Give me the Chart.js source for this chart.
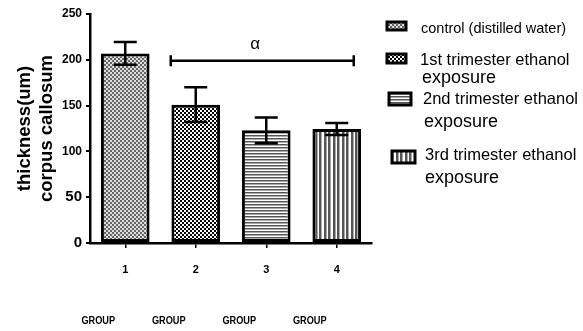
<!DOCTYPE html>
<html>
<head>
<meta charset="utf-8">
<script src="https://cdn.jsdelivr.net/npm/chart.js@4.4.1/dist/chart.umd.min.js"></script>
<style>
html, body { margin: 0; padding: 0; background: #fff; }
</style>
</head>
<body>
<canvas id="thicknessChart" width="583" height="331"></canvas>
<script>
// Data
const groups = ['1', '2', '3', '4'];
const groupNames = ['GROUP', 'GROUP', 'GROUP', 'GROUP'];
const meanThickness = [207, 151, 123, 124.5];
const semThickness = [12.5, 19, 14, 6.5];
const seriesNames = [
    ['control (distilled water)'],
    ['1st trimester ethanol', 'exposure'],
    ['2nd trimester ethanol', 'exposure'],
    ['3rd trimester ethanol', 'exposure']
];
const yTicks = [0, 50, 100, 150, 200, 250];
const sigLevel = 199;
const sigFrom = 1;
const sigTo = 3;
const sigMark = 'α';

const FONT = "'Liberation Sans', Arial, sans-serif";
Chart.defaults.font.family = FONT;
Chart.defaults.color = '#000';

// Build a small canvas tile and turn it into a pattern
function makePattern(w, h, draw) {
    const c = document.createElement('canvas');
    c.width = w;
    c.height = h;
    const g = c.getContext('2d');
    g.fillStyle = '#fff';
    g.fillRect(0, 0, w, h);
    draw(g);
    return document.getElementById('thicknessChart').getContext('2d').createPattern(c, 'repeat');
}

const patterns = [
    // fine grey checker
    makePattern(4, 4, g => {
        g.fillStyle = '#dcdcdc';
        g.fillRect(0, 0, 4, 4);
        g.fillStyle = '#666';
        g.fillRect(0, 0, 2, 2);
        g.fillRect(2, 2, 2, 2);
    }),
    // black/white checker
    makePattern(4, 4, g => {
        g.fillStyle = '#000';
        g.fillRect(0, 0, 2, 2);
        g.fillRect(2, 2, 2, 2);
    }),
    // horizontal lines
    makePattern(3, 3, g => {
        g.fillStyle = '#555';
        g.fillRect(0, 0, 3, 1);
        g.fillStyle = '#aaa';
        g.fillRect(0, 1, 3, 1);
    }),
    // vertical lines
    makePattern(9, 3, g => {
        g.fillStyle = '#555';
        g.fillRect(0, 0, 2, 3);
        g.fillRect(4, 0, 2, 3);
        g.fillStyle = '#aaa';
        g.fillRect(2, 0, 1, 3);
        g.fillRect(6, 0, 1, 3);
    })
];

// error bars (mean +/- sem) through the y scale
const errorBars = {
    id: 'errorBars',
    afterDatasetsDraw(chart) {
        const ctx = chart.ctx;
        const y = chart.scales.y;
        const meta = chart.getDatasetMeta(0);
        ctx.save();
        ctx.strokeStyle = '#000';
        ctx.lineWidth = 2.5;
        meta.data.forEach((bar, i) => {
            const hi = y.getPixelForValue(meanThickness[i] + semThickness[i]);
            const lo = y.getPixelForValue(meanThickness[i] - semThickness[i]);
            ctx.beginPath();
            ctx.moveTo(bar.x, hi);
            ctx.lineTo(bar.x, lo);
            ctx.moveTo(bar.x - 11.5, hi);
            ctx.lineTo(bar.x + 11.5, hi);
            ctx.moveTo(bar.x - 11.5, lo);
            ctx.lineTo(bar.x + 11.5, lo);
            ctx.stroke();
        });
        ctx.restore();
    }
};

// significance bracket with alpha
const sigBracket = {
    id: 'sigBracket',
    afterDatasetsDraw(chart) {
        const ctx = chart.ctx;
        const x = chart.scales.x;
        const yy = chart.scales.y.getPixelForValue(sigLevel);
        const x1 = x.getPixelForValue(sigFrom) - 25;
        const x2 = x.getPixelForValue(sigTo) + 17;
        ctx.save();
        ctx.strokeStyle = '#000';
        ctx.lineWidth = 2.5;
        ctx.beginPath();
        ctx.moveTo(x1, yy);
        ctx.lineTo(x2, yy);
        ctx.moveTo(x1, yy - 5.5);
        ctx.lineTo(x1, yy + 5.5);
        ctx.moveTo(x2, yy - 5.5);
        ctx.lineTo(x2, yy + 5.5);
        ctx.stroke();
        ctx.fillStyle = '#000';
        ctx.font = '17px ' + FONT;
        ctx.textAlign = 'center';
        ctx.textBaseline = 'middle';
        ctx.fillText(sigMark, x.getPixelForValue(2) - 11, yy - 16);
        ctx.restore();
    }
};

// "GROUP" labels under the numbers
const groupLabels = {
    id: 'groupLabels',
    afterDraw(chart) {
        const ctx = chart.ctx;
        const x = chart.scales.x;
        ctx.save();
        ctx.fillStyle = '#000';
        ctx.font = 'bold 11.5px ' + FONT;
        ctx.textAlign = 'center';
        ctx.textBaseline = 'middle';
        groupNames.forEach((name, i) => {
            const px = x.getPixelForValue(i) - 27;
            ctx.save();
            ctx.translate(px, 321);
            ctx.scale(0.8, 1);
            ctx.fillText(name, 0, 0);
            ctx.restore();
        });
        ctx.restore();
    }
};

// legend on the right, drawn by hand
const legendBoxes = [
    {x: 387, y: 22, w: 19, h: 8},
    {x: 387, y: 54, w: 19, h: 9},
    {x: 389, y: 93, w: 22, h: 12},
    {x: 392, y: 151, w: 23, h: 12}
];
const legendLines = [
    [{x: 421, y: 33, size: 14.5}],
    [{x: 420, y: 65, size: 16.5}, {x: 422, y: 83, size: 18}],
    [{x: 423, y: 104, size: 16.5}, {x: 424, y: 127, size: 18}],
    [{x: 425, y: 160, size: 16.5}, {x: 425, y: 183, size: 18}]
];
const sideLegend = {
    id: 'sideLegend',
    afterDraw(chart) {
        const ctx = chart.ctx;
        ctx.save();
        legendBoxes.forEach((b, i) => {
            ctx.fillStyle = patterns[i];
            ctx.fillRect(b.x, b.y, b.w, b.h);
            ctx.strokeStyle = '#000';
            ctx.lineWidth = 3;
            ctx.strokeRect(b.x, b.y, b.w, b.h);
        });
        ctx.fillStyle = '#000';
        ctx.textAlign = 'left';
        ctx.textBaseline = 'alphabetic';
        seriesNames.forEach((lines, i) => {
            lines.forEach((txt, j) => {
                const p = legendLines[i][j];
                ctx.font = p.size + 'px ' + FONT;
                ctx.fillText(txt, p.x, p.y);
            });
        });
        ctx.restore();
    }
};

const ctx = document.getElementById('thicknessChart').getContext('2d');
const thicknessChart = new Chart(ctx, {
    type: 'bar',
    data: {
        labels: groups,
        datasets: [{
            data: meanThickness,
            backgroundColor: patterns,
            borderColor: '#000',
            borderWidth: 3,
            borderSkipped: false,
            barPercentage: 0.69,
            categoryPercentage: 1
        }]
    },
    options: {
        responsive: false,
        animation: false,
        devicePixelRatio: 1,
        layout: {
            padding: {left: 0, top: 14, right: 211, bottom: 0}
        },
        plugins: {
            legend: {display: false},
            tooltip: {enabled: false}
        },
        scales: {
            x: {
                afterFit: s => { s.height = 88; },
                grid: {
                    offset: false,
                    drawOnChartArea: false,
                    drawTicks: true,
                    tickLength: 5,
                    color: '#000',
                    lineWidth: 1.5
                },
                border: {color: '#000', width: 2.5},
                ticks: {
                    padding: 15,
                    font: {size: 11, weight: 'bold'}
                }
            },
            y: {
                min: 0,
                max: 250,
                afterFit: s => { s.width = 90; },
                afterBuildTicks: s => { s.ticks = yTicks.map(v => ({value: v})); },
                grid: {
                    drawOnChartArea: false,
                    drawTicks: true,
                    tickLength: 4,
                    color: '#000',
                    lineWidth: 2
                },
                border: {color: '#000', width: 2.5},
                ticks: {
                    padding: 4,
                    font: c => ({size: c.tick && c.tick.value <= 50 ? 15 : 12, weight: 'bold'})
                },
                title: {
                    display: true,
                    text: ['thickness(um)', 'corpus callosum'],
                    font: {size: 18.5, weight: 'bold', lineHeight: 1.19},
                    padding: {top: 14, bottom: 0}
                }
            }
        }
    },
    plugins: [errorBars, sigBracket, groupLabels, sideLegend]
});
</script>
</body>
</html>
